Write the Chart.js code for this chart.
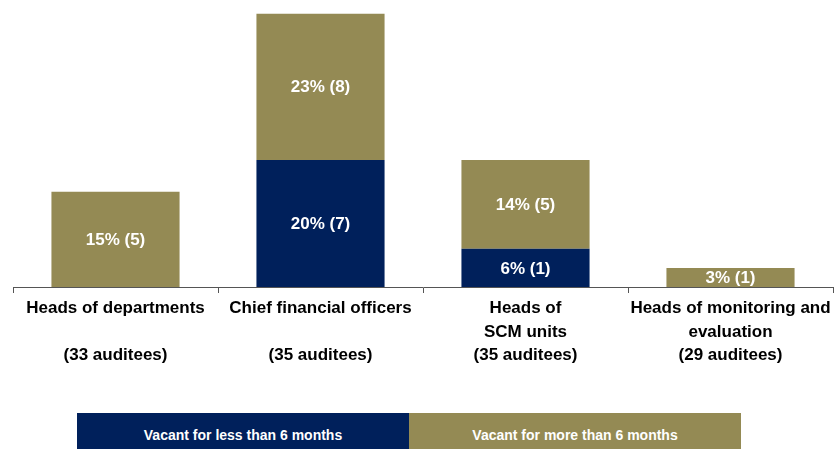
<!DOCTYPE html>
<html>
<head>
<meta charset="utf-8">
<script src="https://cdn.jsdelivr.net/npm/chart.js@4"></script>
<style>
    body { margin: 0; background: #fff; width: 836px; height: 449px; overflow: hidden; position: relative; }
    #wrap { position: absolute; left: 0; top: 0; width: 836px; height: 400px; }
    #legend { position: absolute; left: 77px; top: 413px; display: flex; }
    #legend div {
        width: 332px; height: 40px; text-align: center; color: #fff;
        font: bold 14px "Liberation Sans Narrow", "Arial Narrow", "Liberation Sans", sans-serif;
        line-height: 44px;
    }
</style>
</head>
<body>
<div id="wrap"><canvas id="vacancyChart"></canvas></div>
<div id="legend"></div>
<script>
const FONT = '"Liberation Sans Narrow", "Arial Narrow", "Liberation Sans", sans-serif';

// positions, with auditee totals underneath
const categories = [
    ["Heads of departments", "", "(33 auditees)"],
    ["Chief financial officers", "", "(35 auditees)"],
    ["Heads of", "SCM units", "(35 auditees)"],
    ["Heads of monitoring and", "evaluation", "(29 auditees)"]
];

// percentage of auditees and number of vacancies
const lessPct = [0, 20, 6, 0];
const lessCount = [0, 7, 1, 0];
const morePct = [15, 23, 14, 3];
const moreCount = [5, 8, 5, 1];

const NAVY = "#00205b";
const OLIVE = "#948a54";

// white "xx% (n)" text in the middle of every non-empty segment
const segmentLabels = {
    id: "segmentLabels",
    afterDatasetsDraw(chart) {
        let ctx = chart.ctx;
        ctx.save();
        ctx.fillStyle = "#fff";
        ctx.font = "bold 17px " + FONT;
        ctx.textAlign = "center";
        ctx.textBaseline = "middle";
        chart.data.datasets.forEach((ds, i) => {
            chart.getDatasetMeta(i).data.forEach((bar, j) => {
                if (!ds.data[j]) return;
                let mid = (bar.y + bar.base) / 2;
                ctx.fillText(`${ds.data[j]}% (${ds.counts[j]})`, bar.x, mid + 1);
            });
        });
        ctx.restore();
    }
};

let chart = new Chart(document.getElementById("vacancyChart"), {
    type: "bar",
    data: {
        labels: categories,
        datasets: [
            { label: "Vacant for less than 6 months", data: lessPct, counts: lessCount, backgroundColor: NAVY },
            { label: "Vacant for more than 6 months", data: morePct, counts: moreCount, backgroundColor: OLIVE }
        ]
    },
    options: {
        responsive: true,
        maintainAspectRatio: false,
        animation: false,
        layout: { padding: { left: 13, right: 3, top: 1, bottom: 0 } },
        datasets: { bar: { categoryPercentage: 1, barPercentage: 0.625 } },
        plugins: { legend: { display: false }, tooltip: { enabled: false } },
        scales: {
            x: {
                stacked: true,
                offset: true,
                afterFit: s => {
                    s.height = 113;
                    // labels may spill past the outer ticks
                    s.paddingLeft = 0;
                    s.paddingRight = 0;
                },
                border: { color: "#555", width: 1 },
                grid: { offset: true, drawOnChartArea: false, tickLength: 6, color: "#555" },
                ticks: {
                    color: "#000",
                    padding: 4,
                    maxRotation: 0,
                    autoSkip: false,
                    font: { family: FONT, size: 17, weight: "bold", lineHeight: 1.38 }
                }
            },
            y: { stacked: true, display: false, min: 0, max: 45 }
        }
    },
    plugins: [segmentLabels]
});

// legend boxes under the chart
let legend = document.getElementById("legend");
chart.data.datasets.forEach(ds => {
    legend.innerHTML += `<div style="background:${ds.backgroundColor}">${ds.label}</div>`;
});
</script>
</body>
</html>
